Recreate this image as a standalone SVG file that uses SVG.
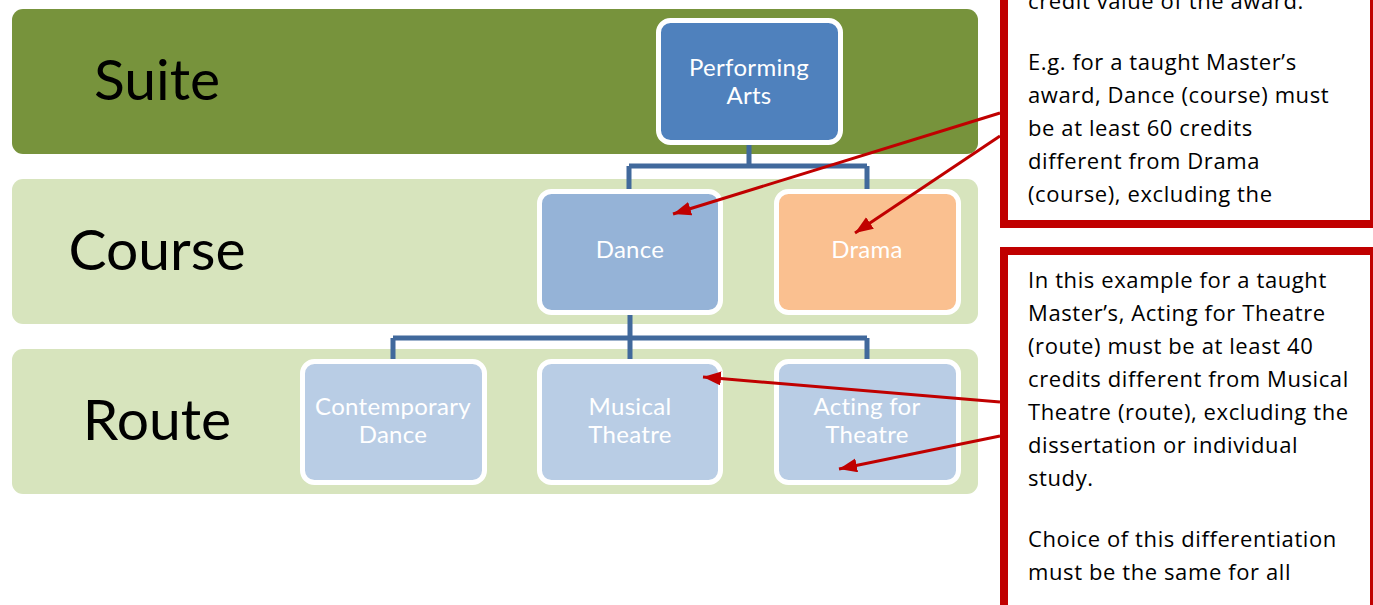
<svg xmlns="http://www.w3.org/2000/svg" width="1373" height="605" viewBox="0 0 1373 605">
<style>
.band-dark{fill:#77933C}
.band-light{fill:#D7E4BD}
.lvl{font-family:Lato,"Open Sans","Liberation Sans",sans-serif;font-size:57px;fill:#000;text-anchor:middle}
.node rect{stroke:#FFFFFF;stroke-width:5}
.ntxt{font-family:Lato,"Open Sans","Liberation Sans",sans-serif;font-size:24px;fill:#FFFFFF;text-anchor:middle;letter-spacing:0.3px}
.conn{fill:none;stroke:#41699C;stroke-width:5}
.arrow{fill:none;stroke:#C00000;stroke-width:3;marker-end:url(#ah)}
.callout{fill:#FFFFFF;stroke:#C00000;stroke-width:8}
.ctxt{font-family:"Open Sans",Lato,"Liberation Sans",sans-serif;font-size:22px;fill:#000;letter-spacing:0.6px}
</style>
<defs>
<marker id="ah" markerUnits="userSpaceOnUse" markerWidth="20" markerHeight="16" refX="18" refY="7" orient="auto">
<path d="M0,0 L18,7 L0,14 z" fill="#C00000"/>
</marker>
</defs>
<g id="bands">
<rect class="band-dark" x="12" y="9" width="966" height="145" rx="11"/>
<rect class="band-light" x="12" y="179" width="966" height="145" rx="11"/>
<rect class="band-light" x="12" y="349" width="966" height="145" rx="11"/>
<text class="lvl" x="157" y="100">Suite</text>
<text class="lvl" x="157" y="270">Course</text>
<text class="lvl" x="157" y="440">Route</text>
</g>
<g id="connectors">
<path class="conn" d="M749,143 V166 M629,166 H867 M629,166 V191 M867,166 V191"/>
<path class="conn" d="M630,313 V361 M393,338 H867 M393,338 V361 M867,338 V361"/>
</g>
<g id="node-performing-arts" class="node">
<rect x="658.5" y="20.5" width="182" height="122" rx="12" fill="#4F81BD"/>
<text class="ntxt" x="749" y="76">Performing</text>
<text class="ntxt" x="749" y="104">Arts</text>
</g>
<g id="node-dance" class="node">
<rect x="539.5" y="191.5" width="181" height="121" rx="12" fill="#95B3D7"/>
<text class="ntxt" x="630" y="258">Dance</text>
</g>
<g id="node-drama" class="node">
<rect x="776.5" y="191.5" width="182" height="121" rx="12" fill="#FAC090"/>
<text class="ntxt" x="867" y="258">Drama</text>
</g>
<g id="node-contemporary-dance" class="node">
<rect x="302.5" y="361.5" width="182" height="121" rx="12" fill="#B9CDE5"/>
<text class="ntxt" x="393" y="415">Contemporary</text>
<text class="ntxt" x="393" y="443">Dance</text>
</g>
<g id="node-musical-theatre" class="node">
<rect x="539.5" y="361.5" width="181" height="121" rx="12" fill="#B9CDE5"/>
<text class="ntxt" x="630" y="415">Musical</text>
<text class="ntxt" x="630" y="443">Theatre</text>
</g>
<g id="node-acting-for-theatre" class="node">
<rect x="776.5" y="361.5" width="182" height="121" rx="12" fill="#B9CDE5"/>
<text class="ntxt" x="867" y="415">Acting for</text>
<text class="ntxt" x="867" y="443">Theatre</text>
</g>
<g id="callout-course">
<rect class="callout" x="1004" y="-50" width="370" height="274"/>
<text class="ctxt" x="1028" y="9">credit value of the award.</text>
<text class="ctxt" x="1028" y="70">E.g. for a taught Master’s</text>
<text class="ctxt" x="1028" y="103">award, Dance (course) must</text>
<text class="ctxt" x="1028" y="136">be at least 60 credits</text>
<text class="ctxt" x="1028" y="169">different from Drama</text>
<text class="ctxt" x="1028" y="202">(course), excluding the</text>
</g>
<g id="callout-route">
<rect class="callout" x="1004" y="251" width="370" height="370"/>
<text class="ctxt" x="1028" y="288">In this example for a taught</text>
<text class="ctxt" x="1028" y="321">Master’s, Acting for Theatre</text>
<text class="ctxt" x="1028" y="354">(route) must be at least 40</text>
<text class="ctxt" x="1028" y="387">credits different from Musical</text>
<text class="ctxt" x="1028" y="420">Theatre (route), excluding the</text>
<text class="ctxt" x="1028" y="453">dissertation or individual</text>
<text class="ctxt" x="1028" y="486">study.</text>
<text class="ctxt" x="1028" y="547">Choice of this differentiation</text>
<text class="ctxt" x="1028" y="580">must be the same for all</text>
</g>
<g id="callout-arrows">
<path class="arrow" d="M1000,113 L673,214"/>
<path class="arrow" d="M1000,136 L855,233"/>
<path class="arrow" d="M1000,402 L703,377"/>
<path class="arrow" d="M1000,436 L839,469"/>
</g>
</svg>
